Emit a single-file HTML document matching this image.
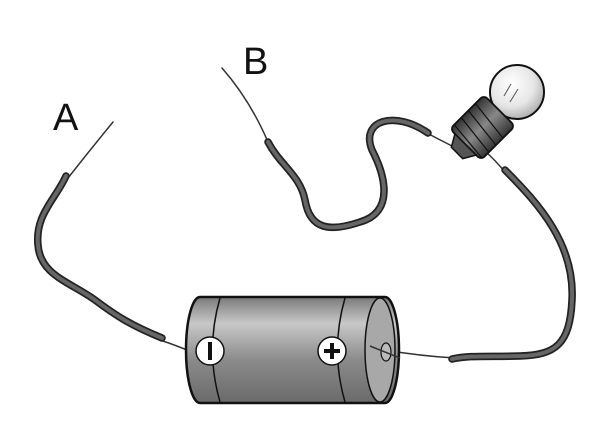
<!DOCTYPE html>
<html><head><style>html,body{margin:0;padding:0;background:#fff;width:600px;height:443px;overflow:hidden}</style></head><body>
<svg width="600" height="443" viewBox="0 0 600 443" xmlns="http://www.w3.org/2000/svg">
<defs>
<linearGradient id="bat" x1="0" y1="0" x2="0" y2="1">
<stop offset="0" stop-color="#7a7a7a"/><stop offset="0.25" stop-color="#c8c8c8"/><stop offset="0.6" stop-color="#8a8a8a"/><stop offset="1" stop-color="#6a6a6a"/></linearGradient>
<radialGradient id="glob" cx="0.4" cy="0.35" r="0.7"><stop offset="0" stop-color="#fff"/><stop offset="0.6" stop-color="#e6e6e6"/><stop offset="1" stop-color="#a8a8a8"/></radialGradient>
<linearGradient id="base" x1="0" y1="0" x2="1" y2="0"><stop offset="0" stop-color="#333"/><stop offset="0.5" stop-color="#888"/><stop offset="1" stop-color="#333"/></linearGradient>
</defs>
<text x="53" y="130" font-family="Liberation Sans, sans-serif" font-size="38" fill="#111">A</text>
<text x="243" y="74" font-family="Liberation Sans, sans-serif" font-size="38" fill="#111">B</text>
<g fill="none" stroke-linecap="round" stroke-linejoin="round">
<path d="M113,122 Q90,150 68,178" stroke="#333" stroke-width="1.5"/>
<path d="M160,340 Q175,345 192,352" stroke="#333" stroke-width="1.5"/>
<path d="M222,68 Q250,100 268,142" stroke="#333" stroke-width="1.5"/>
<path d="M425,132 Q440,140 460,150" stroke="#333" stroke-width="1.5"/>
<path d="M486,152 Q495,160 505,172" stroke="#333" stroke-width="1.5"/>
<path d="M385,350 Q420,356 455,358" stroke="#333" stroke-width="1.5"/>
<path d="M66,176 C55,200 35,215 38,245 C40,275 70,282 95,300 C115,315 130,325 162,338" stroke="#222" stroke-width="7.5"/>
<path d="M66,176 C55,200 35,215 38,245 C40,275 70,282 95,300 C115,315 130,325 162,338" stroke="#666" stroke-width="4"/>
<path d="M268,142 C280,165 300,175 305,200 C310,230 330,232 360,222 C395,212 385,175 372,150 C360,120 395,110 428,133" stroke="#222" stroke-width="7.5"/>
<path d="M268,142 C280,165 300,175 305,200 C310,230 330,232 360,222 C395,212 385,175 372,150 C360,120 395,110 428,133" stroke="#666" stroke-width="4"/>
<path d="M505,170 C540,205 575,245 572,300 C570,345 555,355 520,356 C490,357 470,355 452,359" stroke="#222" stroke-width="7.5"/>
<path d="M505,170 C540,205 575,245 572,300 C570,345 555,355 520,356 C490,357 470,355 452,359" stroke="#666" stroke-width="4"/>
</g>
<path d="M200,297 L385,297 A14,53 0 0 1 385,403 L200,403 A14,53 0 0 1 200,297 Z" fill="url(#bat)" stroke="#111" stroke-width="2.5"/>
<path d="M220,298 Q205,350 220,402" fill="none" stroke="#111" stroke-width="1.5"/>
<path d="M345,298 Q330,350 345,402" fill="none" stroke="#111" stroke-width="1.5"/>
<ellipse cx="380" cy="350" rx="15" ry="52" fill="#a8a8a8" stroke="#111" stroke-width="1.5"/>
<ellipse cx="386" cy="352" rx="5" ry="9" fill="#bbb" stroke="#111" stroke-width="1.2"/>
<path d="M370,346 Q385,352 400,358" stroke="#333" stroke-width="1.5" fill="none"/>
<circle cx="210" cy="351" r="14" fill="#fff" stroke="#111" stroke-width="1.5"/>
<rect x="208" y="342" width="4" height="18" fill="#111"/>
<circle cx="332" cy="351" r="14" fill="#fff" stroke="#111" stroke-width="1.5"/>
<rect x="324" y="349" width="16" height="4" fill="#111"/><rect x="330" y="343" width="4" height="16" fill="#111"/>
<circle cx="517" cy="92" r="27" fill="url(#glob)" stroke="#111" stroke-width="2"/>
<path d="M504,96 L511,84 M510,102 L518,89" stroke="#555" stroke-width="1"/>
<g transform="translate(474,136) rotate(45)">
<rect x="-22" y="-36" width="44" height="48" rx="5" fill="url(#base)" stroke="#111" stroke-width="1.8"/>
<path d="M-22,-24 L22,-19 M-22,-14 L22,-9 M-22,-4 L22,1 M-22,6 L22,10" stroke="#111" stroke-width="1.2"/>
<path d="M-15,12 L15,12 L8,24 L-8,24 Z" fill="#555" stroke="#111" stroke-width="1.5"/>
</g>
</svg>
</body></html>
